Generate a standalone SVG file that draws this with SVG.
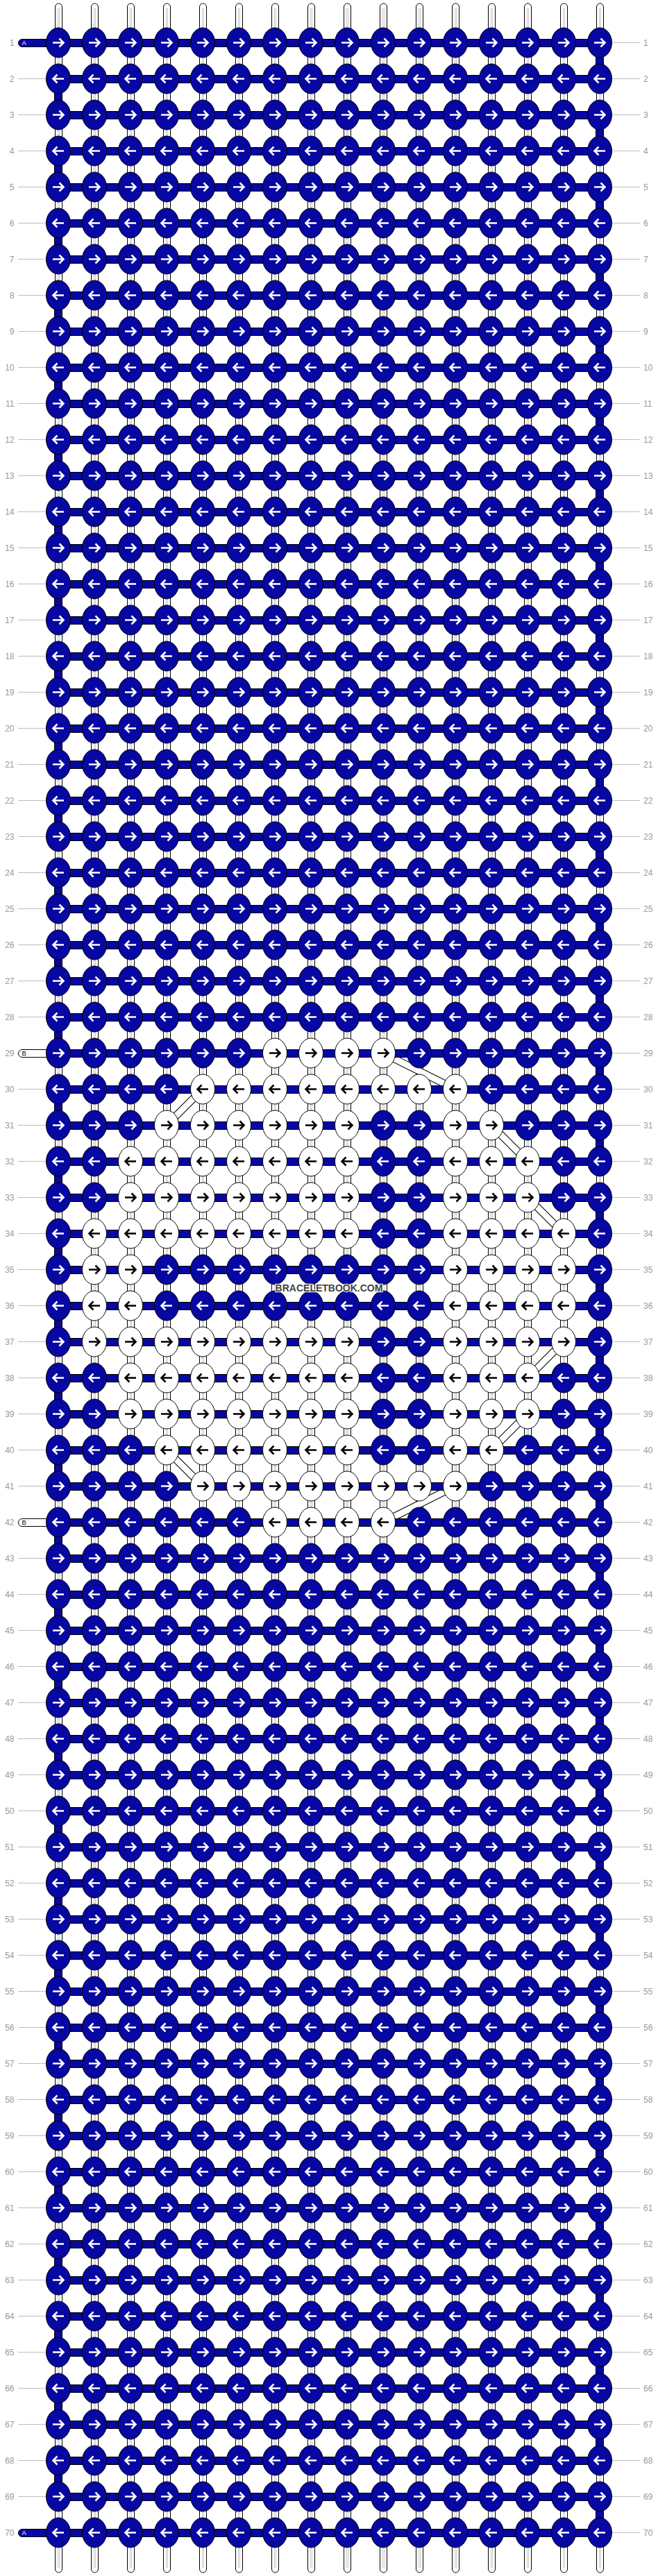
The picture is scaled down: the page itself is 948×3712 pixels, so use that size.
<svg xmlns="http://www.w3.org/2000/svg" xmlns:xlink="http://www.w3.org/1999/xlink" width="948" height="3712" viewBox="0 0 948 3712">
<style>
.nl{font:12px "Liberation Sans",Arial,sans-serif;fill:#9a9a9a;text-anchor:end}
.nr{font:12px "Liberation Sans",Arial,sans-serif;fill:#9a9a9a}
.kb{fill:#0707a2;stroke:#000;stroke-width:1}
.kw{fill:#fff;stroke:#000;stroke-width:1}
.aw{fill:none;stroke:#fff;stroke-width:2.6}
.ak{fill:none;stroke:#000;stroke-width:2.6}
.pl{font:9.5px "Liberation Sans",Arial,sans-serif}
</style>
<defs>
<g id="st"><rect x="-4.5" y="5" width="10" height="3702" rx="5" fill="#fff" stroke="#000"/><path d="M-0.5,12V3700M1.5,12V3700" stroke="#c8c8c8" fill="none"/></g>
<g id="bR"><ellipse rx="17.5" ry="21.5" class="kb"/><path class="aw" d="M-8,0H6.5M1.5,-6L7.5,0L1.5,6"/></g>
<g id="bL"><ellipse rx="17.5" ry="21.5" class="kb"/><path class="aw" d="M8,0H-6.5M-1.5,-6L-7.5,0L-1.5,6"/></g>
<g id="wR"><ellipse rx="17.5" ry="21.5" class="kw"/><path class="ak" d="M-8,0H6.5M1.5,-6L7.5,0L1.5,6"/></g>
<g id="wL"><ellipse rx="17.5" ry="21.5" class="kw"/><path class="ak" d="M8,0H-6.5M-1.5,-6L-7.5,0L-1.5,6"/></g>
<g id="rowR"><use href="#bR" x="84"/><use href="#bR" x="136"/><use href="#bR" x="188"/><use href="#bR" x="240"/><use href="#bR" x="292"/><use href="#bR" x="344"/><use href="#bR" x="396"/><use href="#bR" x="448"/><use href="#bR" x="500"/><use href="#bR" x="552"/><use href="#bR" x="604"/><use href="#bR" x="656"/><use href="#bR" x="708"/><use href="#bR" x="760"/><use href="#bR" x="812"/><use href="#bR" x="864"/></g>
<g id="rowL"><use href="#bL" x="84"/><use href="#bL" x="136"/><use href="#bL" x="188"/><use href="#bL" x="240"/><use href="#bL" x="292"/><use href="#bL" x="344"/><use href="#bL" x="396"/><use href="#bL" x="448"/><use href="#bL" x="500"/><use href="#bL" x="552"/><use href="#bL" x="604"/><use href="#bL" x="656"/><use href="#bL" x="708"/><use href="#bL" x="760"/><use href="#bL" x="812"/><use href="#bL" x="864"/></g>
<path id="dg" d="M292,1569.5L240,1621.5M552,1517.5L656,1569.5M708,1621.5L760,1673.5M760,1725.5L812,1777.5M812,1933.5L760,1985.5M760,2037.5L708,2089.5M240,2089.5L292,2141.5M656,2141.5L552,2193.5"/>
</defs>
<rect width="948" height="3712" fill="#fff"/>
<g id="connectors">
<g id="strands"><use href="#st" x="84"/><use href="#st" x="136"/><use href="#st" x="188"/><use href="#st" x="240"/><use href="#st" x="292"/><use href="#st" x="344"/><use href="#st" x="396"/><use href="#st" x="448"/><use href="#st" x="500"/><use href="#st" x="552"/><use href="#st" x="604"/><use href="#st" x="656"/><use href="#st" x="708"/><use href="#st" x="760"/><use href="#st" x="812"/><use href="#st" x="864"/></g>
<path id="turns-right" fill="#0707a2" stroke="#000" d="M858.5,78.5h11v18h-11z
m0,104h11v18h-11zm0,104h11v18h-11zm0,104h11v18h-11zm0,104h11v18h-11zm0,104h11v18h-11zm0,104h11v18h-11zm0,104h11v18h-11zm0,104h11v18h-11zm0,104h11v18h-11zm0,104h11v18h-11z
m0,104h11v18h-11zm0,104h11v18h-11zm0,104h11v18h-11zm0,104h11v18h-11zm0,104h11v18h-11zm0,104h11v18h-11zm0,104h11v18h-11zm0,104h11v18h-11zm0,104h11v18h-11zm0,104h11v18h-11z
m0,104h11v18h-11zm0,104h11v18h-11zm0,104h11v18h-11zm0,104h11v18h-11zm0,104h11v18h-11zm0,104h11v18h-11zm0,104h11v18h-11zm0,104h11v18h-11zm0,104h11v18h-11zm0,104h11v18h-11z
m0,104h11v18h-11zm0,104h11v18h-11zm0,104h11v18h-11zm0,104h11v18h-11z"/>
<path id="turns-left" fill="#0707a2" stroke="#000" d="M78.5,130.5h11v18h-11z
m0,104h11v18h-11zm0,104h11v18h-11zm0,104h11v18h-11zm0,104h11v18h-11zm0,104h11v18h-11zm0,104h11v18h-11zm0,104h11v18h-11zm0,104h11v18h-11zm0,104h11v18h-11zm0,104h11v18h-11z
m0,104h11v18h-11zm0,104h11v18h-11zm0,104h11v18h-11zm0,104h11v18h-11zm0,104h11v18h-11zm0,104h11v18h-11zm0,104h11v18h-11zm0,104h11v18h-11zm0,104h11v18h-11zm0,104h11v18h-11z
m0,104h11v18h-11zm0,104h11v18h-11zm0,104h11v18h-11zm0,104h11v18h-11zm0,104h11v18h-11zm0,104h11v18h-11zm0,104h11v18h-11zm0,104h11v18h-11zm0,104h11v18h-11zm0,104h11v18h-11z
m0,104h11v18h-11zm0,104h11v18h-11zm0,104h11v18h-11z"/>
<g id="diagonals" fill="none"><use href="#dg" stroke="#000" stroke-width="11"/><use href="#dg" stroke="#fff" stroke-width="9"/></g>
<path id="bars" fill="#0707a2" stroke="#000" d="M84,56.5h780v11h-780z
m0,52h780v11h-780zm0,52h780v11h-780zm0,52h780v11h-780zm0,52h780v11h-780zm0,52h780v11h-780zm0,52h780v11h-780zm0,52h780v11h-780zm0,52h780v11h-780zm0,52h780v11h-780zm0,52h780v11h-780z
m0,52h780v11h-780zm0,52h780v11h-780zm0,52h780v11h-780zm0,52h780v11h-780zm0,52h780v11h-780zm0,52h780v11h-780zm0,52h780v11h-780zm0,52h780v11h-780zm0,52h780v11h-780zm0,52h780v11h-780z
m0,52h780v11h-780zm0,52h780v11h-780zm0,52h780v11h-780zm0,52h780v11h-780zm0,52h780v11h-780zm0,52h780v11h-780zm0,52h780v11h-780zm0,52h780v11h-780zm0,52h780v11h-780zm0,52h780v11h-780z
m0,52h780v11h-780zm0,52h780v11h-780zm0,52h780v11h-780zm0,52h780v11h-780zm0,52h780v11h-780zm0,52h780v11h-780zm0,52h780v11h-780zm0,52h780v11h-780zm0,52h780v11h-780zm0,52h780v11h-780z
m0,52h780v11h-780zm0,52h780v11h-780zm0,52h780v11h-780zm0,52h780v11h-780zm0,52h780v11h-780zm0,52h780v11h-780zm0,52h780v11h-780zm0,52h780v11h-780zm0,52h780v11h-780zm0,52h780v11h-780z
m0,52h780v11h-780zm0,52h780v11h-780zm0,52h780v11h-780zm0,52h780v11h-780zm0,52h780v11h-780zm0,52h780v11h-780zm0,52h780v11h-780zm0,52h780v11h-780zm0,52h780v11h-780zm0,52h780v11h-780z
m0,52h780v11h-780zm0,52h780v11h-780zm0,52h780v11h-780zm0,52h780v11h-780zm0,52h780v11h-780zm0,52h780v11h-780zm0,52h780v11h-780zm0,52h780v11h-780zm0,52h780v11h-780z"/>
<path id="guides" fill="none" stroke="#bdbdbd" d="M26,61.5h40
m-40,52h40m-40,52h40m-40,52h40m-40,52h40m-40,52h40m-40,52h40m-40,52h40m-40,52h40m-40,52h40m-40,52h40
m-40,52h40m-40,52h40m-40,52h40m-40,52h40m-40,52h40m-40,52h40m-40,52h40m-40,52h40m-40,52h40m-40,52h40
m-40,52h40m-40,52h40m-40,52h40m-40,52h40m-40,52h40m-40,52h40m-40,52h40m-40,52h40m-40,52h40m-40,52h40
m-40,52h40m-40,52h40m-40,52h40m-40,52h40m-40,52h40m-40,52h40m-40,52h40m-40,52h40m-40,52h40m-40,52h40
m-40,52h40m-40,52h40m-40,52h40m-40,52h40m-40,52h40m-40,52h40m-40,52h40m-40,52h40m-40,52h40m-40,52h40
m-40,52h40m-40,52h40m-40,52h40m-40,52h40m-40,52h40m-40,52h40m-40,52h40m-40,52h40m-40,52h40m-40,52h40
m-40,52h40m-40,52h40m-40,52h40m-40,52h40m-40,52h40m-40,52h40m-40,52h40m-40,52h40m-40,52h40
M882,61.5h40
m-40,52h40m-40,52h40m-40,52h40m-40,52h40m-40,52h40m-40,52h40m-40,52h40m-40,52h40m-40,52h40m-40,52h40
m-40,52h40m-40,52h40m-40,52h40m-40,52h40m-40,52h40m-40,52h40m-40,52h40m-40,52h40m-40,52h40m-40,52h40
m-40,52h40m-40,52h40m-40,52h40m-40,52h40m-40,52h40m-40,52h40m-40,52h40m-40,52h40m-40,52h40m-40,52h40
m-40,52h40m-40,52h40m-40,52h40m-40,52h40m-40,52h40m-40,52h40m-40,52h40m-40,52h40m-40,52h40m-40,52h40
m-40,52h40m-40,52h40m-40,52h40m-40,52h40m-40,52h40m-40,52h40m-40,52h40m-40,52h40m-40,52h40m-40,52h40
m-40,52h40m-40,52h40m-40,52h40m-40,52h40m-40,52h40m-40,52h40m-40,52h40m-40,52h40m-40,52h40m-40,52h40
m-40,52h40m-40,52h40m-40,52h40m-40,52h40m-40,52h40m-40,52h40m-40,52h40m-40,52h40m-40,52h40"/>
</g>
<g id="thread-labels">
<g id="threadA1"><rect x="26.5" y="56.5" width="58" height="11" rx="5.5" fill="#0707a2" stroke="#000"/><text x="31.5" y="65.3" class="pl" fill="#fff">A</text></g>
<g id="threadB29"><rect x="26.5" y="1512.5" width="58" height="11" rx="5.5" fill="#fff" stroke="#000"/><text x="31.5" y="1521.3" class="pl" fill="#000">B</text></g>
<g id="threadB42"><rect x="26.5" y="2188.5" width="58" height="11" rx="5.5" fill="#fff" stroke="#000"/><text x="31.5" y="2197.3" class="pl" fill="#000">B</text></g>
<g id="threadA70"><rect x="26.5" y="3644.5" width="58" height="11" rx="5.5" fill="#0707a2" stroke="#000"/><text x="31.5" y="3653.3" class="pl" fill="#fff">A</text></g>
</g>
<g id="knots">
<use id="row1" href="#rowR" y="61.5"/>
<use id="row2" href="#rowL" y="113.5"/>
<use id="row3" href="#rowR" y="165.5"/>
<use id="row4" href="#rowL" y="217.5"/>
<use id="row5" href="#rowR" y="269.5"/>
<use id="row6" href="#rowL" y="321.5"/>
<use id="row7" href="#rowR" y="373.5"/>
<use id="row8" href="#rowL" y="425.5"/>
<use id="row9" href="#rowR" y="477.5"/>
<use id="row10" href="#rowL" y="529.5"/>
<use id="row11" href="#rowR" y="581.5"/>
<use id="row12" href="#rowL" y="633.5"/>
<use id="row13" href="#rowR" y="685.5"/>
<use id="row14" href="#rowL" y="737.5"/>
<use id="row15" href="#rowR" y="789.5"/>
<use id="row16" href="#rowL" y="841.5"/>
<use id="row17" href="#rowR" y="893.5"/>
<use id="row18" href="#rowL" y="945.5"/>
<use id="row19" href="#rowR" y="997.5"/>
<use id="row20" href="#rowL" y="1049.5"/>
<use id="row21" href="#rowR" y="1101.5"/>
<use id="row22" href="#rowL" y="1153.5"/>
<use id="row23" href="#rowR" y="1205.5"/>
<use id="row24" href="#rowL" y="1257.5"/>
<use id="row25" href="#rowR" y="1309.5"/>
<use id="row26" href="#rowL" y="1361.5"/>
<use id="row27" href="#rowR" y="1413.5"/>
<use id="row28" href="#rowL" y="1465.5"/>
<g id="row29" transform="translate(0,1517.5)"><use href="#bR" x="84"/><use href="#bR" x="136"/><use href="#bR" x="188"/><use href="#bR" x="240"/><use href="#bR" x="292"/><use href="#bR" x="344"/><use href="#wR" x="396"/><use href="#wR" x="448"/><use href="#wR" x="500"/><use href="#wR" x="552"/><use href="#bR" x="604"/><use href="#bR" x="656"/><use href="#bR" x="708"/><use href="#bR" x="760"/><use href="#bR" x="812"/><use href="#bR" x="864"/></g>
<g id="row30" transform="translate(0,1569.5)"><use href="#bL" x="84"/><use href="#bL" x="136"/><use href="#bL" x="188"/><use href="#bL" x="240"/><use href="#wL" x="292"/><use href="#wL" x="344"/><use href="#wL" x="396"/><use href="#wL" x="448"/><use href="#wL" x="500"/><use href="#wL" x="552"/><use href="#wL" x="604"/><use href="#wL" x="656"/><use href="#bL" x="708"/><use href="#bL" x="760"/><use href="#bL" x="812"/><use href="#bL" x="864"/></g>
<g id="row31" transform="translate(0,1621.5)"><use href="#bR" x="84"/><use href="#bR" x="136"/><use href="#bR" x="188"/><use href="#wR" x="240"/><use href="#wR" x="292"/><use href="#wR" x="344"/><use href="#wR" x="396"/><use href="#wR" x="448"/><use href="#wR" x="500"/><use href="#bR" x="552"/><use href="#bR" x="604"/><use href="#wR" x="656"/><use href="#wR" x="708"/><use href="#bR" x="760"/><use href="#bR" x="812"/><use href="#bR" x="864"/></g>
<g id="row32" transform="translate(0,1673.5)"><use href="#bL" x="84"/><use href="#bL" x="136"/><use href="#wL" x="188"/><use href="#wL" x="240"/><use href="#wL" x="292"/><use href="#wL" x="344"/><use href="#wL" x="396"/><use href="#wL" x="448"/><use href="#wL" x="500"/><use href="#bL" x="552"/><use href="#bL" x="604"/><use href="#wL" x="656"/><use href="#wL" x="708"/><use href="#wL" x="760"/><use href="#bL" x="812"/><use href="#bL" x="864"/></g>
<g id="row33" transform="translate(0,1725.5)"><use href="#bR" x="84"/><use href="#bR" x="136"/><use href="#wR" x="188"/><use href="#wR" x="240"/><use href="#wR" x="292"/><use href="#wR" x="344"/><use href="#wR" x="396"/><use href="#wR" x="448"/><use href="#wR" x="500"/><use href="#bR" x="552"/><use href="#bR" x="604"/><use href="#wR" x="656"/><use href="#wR" x="708"/><use href="#wR" x="760"/><use href="#bR" x="812"/><use href="#bR" x="864"/></g>
<g id="row34" transform="translate(0,1777.5)"><use href="#bL" x="84"/><use href="#wL" x="136"/><use href="#wL" x="188"/><use href="#wL" x="240"/><use href="#wL" x="292"/><use href="#wL" x="344"/><use href="#wL" x="396"/><use href="#wL" x="448"/><use href="#wL" x="500"/><use href="#bL" x="552"/><use href="#bL" x="604"/><use href="#wL" x="656"/><use href="#wL" x="708"/><use href="#wL" x="760"/><use href="#wL" x="812"/><use href="#bL" x="864"/></g>
<g id="row35" transform="translate(0,1829.5)"><use href="#bR" x="84"/><use href="#wR" x="136"/><use href="#wR" x="188"/><use href="#bR" x="240"/><use href="#bR" x="292"/><use href="#bR" x="344"/><use href="#bR" x="396"/><use href="#bR" x="448"/><use href="#bR" x="500"/><use href="#bR" x="552"/><use href="#bR" x="604"/><use href="#wR" x="656"/><use href="#wR" x="708"/><use href="#wR" x="760"/><use href="#wR" x="812"/><use href="#bR" x="864"/></g>
<g id="row36" transform="translate(0,1881.5)"><use href="#bL" x="84"/><use href="#wL" x="136"/><use href="#wL" x="188"/><use href="#bL" x="240"/><use href="#bL" x="292"/><use href="#bL" x="344"/><use href="#bL" x="396"/><use href="#bL" x="448"/><use href="#bL" x="500"/><use href="#bL" x="552"/><use href="#bL" x="604"/><use href="#wL" x="656"/><use href="#wL" x="708"/><use href="#wL" x="760"/><use href="#wL" x="812"/><use href="#bL" x="864"/></g>
<g id="row37" transform="translate(0,1933.5)"><use href="#bR" x="84"/><use href="#wR" x="136"/><use href="#wR" x="188"/><use href="#wR" x="240"/><use href="#wR" x="292"/><use href="#wR" x="344"/><use href="#wR" x="396"/><use href="#wR" x="448"/><use href="#wR" x="500"/><use href="#bR" x="552"/><use href="#bR" x="604"/><use href="#wR" x="656"/><use href="#wR" x="708"/><use href="#wR" x="760"/><use href="#wR" x="812"/><use href="#bR" x="864"/></g>
<g id="row38" transform="translate(0,1985.5)"><use href="#bL" x="84"/><use href="#bL" x="136"/><use href="#wL" x="188"/><use href="#wL" x="240"/><use href="#wL" x="292"/><use href="#wL" x="344"/><use href="#wL" x="396"/><use href="#wL" x="448"/><use href="#wL" x="500"/><use href="#bL" x="552"/><use href="#bL" x="604"/><use href="#wL" x="656"/><use href="#wL" x="708"/><use href="#wL" x="760"/><use href="#bL" x="812"/><use href="#bL" x="864"/></g>
<g id="row39" transform="translate(0,2037.5)"><use href="#bR" x="84"/><use href="#bR" x="136"/><use href="#wR" x="188"/><use href="#wR" x="240"/><use href="#wR" x="292"/><use href="#wR" x="344"/><use href="#wR" x="396"/><use href="#wR" x="448"/><use href="#wR" x="500"/><use href="#bR" x="552"/><use href="#bR" x="604"/><use href="#wR" x="656"/><use href="#wR" x="708"/><use href="#wR" x="760"/><use href="#bR" x="812"/><use href="#bR" x="864"/></g>
<g id="row40" transform="translate(0,2089.5)"><use href="#bL" x="84"/><use href="#bL" x="136"/><use href="#bL" x="188"/><use href="#wL" x="240"/><use href="#wL" x="292"/><use href="#wL" x="344"/><use href="#wL" x="396"/><use href="#wL" x="448"/><use href="#wL" x="500"/><use href="#bL" x="552"/><use href="#bL" x="604"/><use href="#wL" x="656"/><use href="#wL" x="708"/><use href="#bL" x="760"/><use href="#bL" x="812"/><use href="#bL" x="864"/></g>
<g id="row41" transform="translate(0,2141.5)"><use href="#bR" x="84"/><use href="#bR" x="136"/><use href="#bR" x="188"/><use href="#bR" x="240"/><use href="#wR" x="292"/><use href="#wR" x="344"/><use href="#wR" x="396"/><use href="#wR" x="448"/><use href="#wR" x="500"/><use href="#wR" x="552"/><use href="#wR" x="604"/><use href="#wR" x="656"/><use href="#bR" x="708"/><use href="#bR" x="760"/><use href="#bR" x="812"/><use href="#bR" x="864"/></g>
<g id="row42" transform="translate(0,2193.5)"><use href="#bL" x="84"/><use href="#bL" x="136"/><use href="#bL" x="188"/><use href="#bL" x="240"/><use href="#bL" x="292"/><use href="#bL" x="344"/><use href="#wL" x="396"/><use href="#wL" x="448"/><use href="#wL" x="500"/><use href="#wL" x="552"/><use href="#bL" x="604"/><use href="#bL" x="656"/><use href="#bL" x="708"/><use href="#bL" x="760"/><use href="#bL" x="812"/><use href="#bL" x="864"/></g>
<use id="row43" href="#rowR" y="2245.5"/>
<use id="row44" href="#rowL" y="2297.5"/>
<use id="row45" href="#rowR" y="2349.5"/>
<use id="row46" href="#rowL" y="2401.5"/>
<use id="row47" href="#rowR" y="2453.5"/>
<use id="row48" href="#rowL" y="2505.5"/>
<use id="row49" href="#rowR" y="2557.5"/>
<use id="row50" href="#rowL" y="2609.5"/>
<use id="row51" href="#rowR" y="2661.5"/>
<use id="row52" href="#rowL" y="2713.5"/>
<use id="row53" href="#rowR" y="2765.5"/>
<use id="row54" href="#rowL" y="2817.5"/>
<use id="row55" href="#rowR" y="2869.5"/>
<use id="row56" href="#rowL" y="2921.5"/>
<use id="row57" href="#rowR" y="2973.5"/>
<use id="row58" href="#rowL" y="3025.5"/>
<use id="row59" href="#rowR" y="3077.5"/>
<use id="row60" href="#rowL" y="3129.5"/>
<use id="row61" href="#rowR" y="3181.5"/>
<use id="row62" href="#rowL" y="3233.5"/>
<use id="row63" href="#rowR" y="3285.5"/>
<use id="row64" href="#rowL" y="3337.5"/>
<use id="row65" href="#rowR" y="3389.5"/>
<use id="row66" href="#rowL" y="3441.5"/>
<use id="row67" href="#rowR" y="3493.5"/>
<use id="row68" href="#rowL" y="3545.5"/>
<use id="row69" href="#rowR" y="3597.5"/>
<use id="row70" href="#rowL" y="3649.5"/>
</g>
<g id="numbers-left" class="nl">
<text x="20.5" y="65.5">1</text><text x="20.5" y="117.5">2</text><text x="20.5" y="169.5">3</text><text x="20.5" y="221.5">4</text><text x="20.5" y="273.5">5</text><text x="20.5" y="325.5">6</text><text x="20.5" y="377.5">7</text><text x="20.5" y="429.5">8</text><text x="20.5" y="481.5">9</text><text x="20.5" y="533.5">10</text>
<text x="20.5" y="585.5">11</text><text x="20.5" y="637.5">12</text><text x="20.5" y="689.5">13</text><text x="20.5" y="741.5">14</text><text x="20.5" y="793.5">15</text><text x="20.5" y="845.5">16</text><text x="20.5" y="897.5">17</text><text x="20.5" y="949.5">18</text><text x="20.5" y="1001.5">19</text><text x="20.5" y="1053.5">20</text>
<text x="20.5" y="1105.5">21</text><text x="20.5" y="1157.5">22</text><text x="20.5" y="1209.5">23</text><text x="20.5" y="1261.5">24</text><text x="20.5" y="1313.5">25</text><text x="20.5" y="1365.5">26</text><text x="20.5" y="1417.5">27</text><text x="20.5" y="1469.5">28</text><text x="20.5" y="1521.5">29</text><text x="20.5" y="1573.5">30</text>
<text x="20.5" y="1625.5">31</text><text x="20.5" y="1677.5">32</text><text x="20.5" y="1729.5">33</text><text x="20.5" y="1781.5">34</text><text x="20.5" y="1833.5">35</text><text x="20.5" y="1885.5">36</text><text x="20.5" y="1937.5">37</text><text x="20.5" y="1989.5">38</text><text x="20.5" y="2041.5">39</text><text x="20.5" y="2093.5">40</text>
<text x="20.5" y="2145.5">41</text><text x="20.5" y="2197.5">42</text><text x="20.5" y="2249.5">43</text><text x="20.5" y="2301.5">44</text><text x="20.5" y="2353.5">45</text><text x="20.5" y="2405.5">46</text><text x="20.5" y="2457.5">47</text><text x="20.5" y="2509.5">48</text><text x="20.5" y="2561.5">49</text><text x="20.5" y="2613.5">50</text>
<text x="20.5" y="2665.5">51</text><text x="20.5" y="2717.5">52</text><text x="20.5" y="2769.5">53</text><text x="20.5" y="2821.5">54</text><text x="20.5" y="2873.5">55</text><text x="20.5" y="2925.5">56</text><text x="20.5" y="2977.5">57</text><text x="20.5" y="3029.5">58</text><text x="20.5" y="3081.5">59</text><text x="20.5" y="3133.5">60</text>
<text x="20.5" y="3185.5">61</text><text x="20.5" y="3237.5">62</text><text x="20.5" y="3289.5">63</text><text x="20.5" y="3341.5">64</text><text x="20.5" y="3393.5">65</text><text x="20.5" y="3445.5">66</text><text x="20.5" y="3497.5">67</text><text x="20.5" y="3549.5">68</text><text x="20.5" y="3601.5">69</text><text x="20.5" y="3653.5">70</text>
</g>
<g id="numbers-right" class="nr">
<text x="927" y="65.5">1</text><text x="927" y="117.5">2</text><text x="927" y="169.5">3</text><text x="927" y="221.5">4</text><text x="927" y="273.5">5</text><text x="927" y="325.5">6</text><text x="927" y="377.5">7</text><text x="927" y="429.5">8</text><text x="927" y="481.5">9</text><text x="927" y="533.5">10</text>
<text x="927" y="585.5">11</text><text x="927" y="637.5">12</text><text x="927" y="689.5">13</text><text x="927" y="741.5">14</text><text x="927" y="793.5">15</text><text x="927" y="845.5">16</text><text x="927" y="897.5">17</text><text x="927" y="949.5">18</text><text x="927" y="1001.5">19</text><text x="927" y="1053.5">20</text>
<text x="927" y="1105.5">21</text><text x="927" y="1157.5">22</text><text x="927" y="1209.5">23</text><text x="927" y="1261.5">24</text><text x="927" y="1313.5">25</text><text x="927" y="1365.5">26</text><text x="927" y="1417.5">27</text><text x="927" y="1469.5">28</text><text x="927" y="1521.5">29</text><text x="927" y="1573.5">30</text>
<text x="927" y="1625.5">31</text><text x="927" y="1677.5">32</text><text x="927" y="1729.5">33</text><text x="927" y="1781.5">34</text><text x="927" y="1833.5">35</text><text x="927" y="1885.5">36</text><text x="927" y="1937.5">37</text><text x="927" y="1989.5">38</text><text x="927" y="2041.5">39</text><text x="927" y="2093.5">40</text>
<text x="927" y="2145.5">41</text><text x="927" y="2197.5">42</text><text x="927" y="2249.5">43</text><text x="927" y="2301.5">44</text><text x="927" y="2353.5">45</text><text x="927" y="2405.5">46</text><text x="927" y="2457.5">47</text><text x="927" y="2509.5">48</text><text x="927" y="2561.5">49</text><text x="927" y="2613.5">50</text>
<text x="927" y="2665.5">51</text><text x="927" y="2717.5">52</text><text x="927" y="2769.5">53</text><text x="927" y="2821.5">54</text><text x="927" y="2873.5">55</text><text x="927" y="2925.5">56</text><text x="927" y="2977.5">57</text><text x="927" y="3029.5">58</text><text x="927" y="3081.5">59</text><text x="927" y="3133.5">60</text>
<text x="927" y="3185.5">61</text><text x="927" y="3237.5">62</text><text x="927" y="3289.5">63</text><text x="927" y="3341.5">64</text><text x="927" y="3393.5">65</text><text x="927" y="3445.5">66</text><text x="927" y="3497.5">67</text><text x="927" y="3549.5">68</text><text x="927" y="3601.5">69</text><text x="927" y="3653.5">70</text>
</g>
<text id="watermark" x="474" y="1861" text-anchor="middle" font-family="'Liberation Sans',Arial,sans-serif" font-size="14" font-weight="bold" fill="#444" stroke="#fff" stroke-width="2.5" stroke-opacity="0.85" paint-order="stroke">BRACELETBOOK.COM</text>
</svg>
